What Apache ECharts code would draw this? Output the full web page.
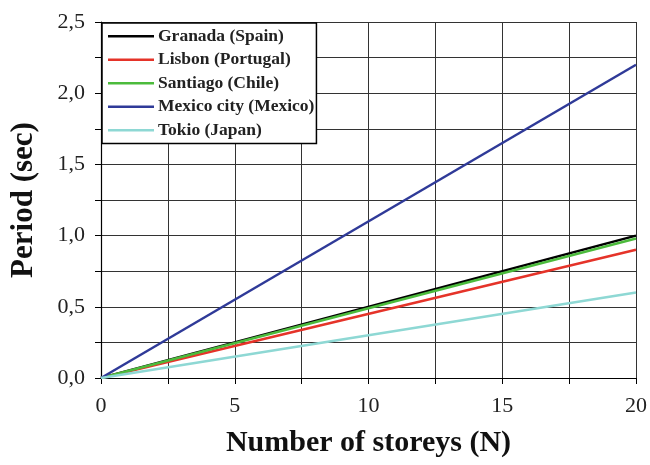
<!DOCTYPE html>
<html>
<head>
<meta charset="utf-8">
<script src="https://cdn.jsdelivr.net/npm/echarts@6/dist/echarts.min.js"></script>
<style>
  html, body { margin: 0; padding: 0; background: #fff; }
  #chart { width: 650px; height: 465px; }
</style>
</head>
<body>
<div id="chart"></div>
<script>
// Gegevens
const storeys = [0, 20];
const cities = ['Granada (Spain)', 'Lisbon (Portugal)', 'Santiago (Chile)', 'Mexico city (Mexico)', 'Tokio (Japan)'];
const granada = [0, 1.0];
const lisbon = [0, 0.9];
const santiago = [0, 0.98];
const mexico = [0, 2.2];
const tokio = [0, 0.6];
const colors = ['#000000', '#e53329', '#4cbb3c', '#2f3a98', '#8ed8d4'];

const seriesValues = [granada, lisbon, santiago, mexico, tokio];

let chart = echarts.init(document.getElementById('chart'));

const serif = 'Liberation Serif, Times New Roman, serif';

let option = {
    animation: false,
    grid: { left: 101, right: 13, top: 22, bottom: 87 },
    legend: {
        orient: 'vertical',
        left: 102,
        top: 23,
        padding: [4, 2, 4, 6],
        backgroundColor: '#fff',
        borderColor: '#000',
        borderWidth: 1.5,
        itemWidth: 46,
        itemHeight: 2.5,
        itemGap: 5,
        icon: 'rect',
        data: cities,
        textStyle: { fontFamily: serif, fontWeight: 'bold', fontSize: 17.5, color: '#222', lineHeight: 18.5, padding: [0, 0, 0, -1] }
    },
    xAxis: {
        type: 'value',
        min: 0, max: 20, interval: 2.5,
        name: 'Number of storeys (N)',
        nameLocation: 'middle',
        nameGap: 50,
        nameTextStyle: { fontFamily: serif, fontWeight: 'bold', fontSize: 30, color: '#111' },
        axisLine: { lineStyle: { color: '#000', width: 1.2 } },
        axisTick: { show: true, length: 6, lineStyle: { color: '#000' } },
        axisLabel: {
            fontFamily: serif, fontSize: 22, color: '#222', margin: 17,
            formatter: v => (v % 5 === 0 ? String(v) : '')
        },
        splitLine: { show: true, lineStyle: { color: '#333', width: 1 } }
    },
    yAxis: {
        type: 'value',
        min: 0, max: 2.5, interval: 0.25,
        name: 'Period (sec)',
        nameLocation: 'middle',
        nameGap: 62,
        nameTextStyle: { fontFamily: serif, fontWeight: 'bold', fontSize: 31, color: '#111' },
        axisLine: { show: true, lineStyle: { color: '#000', width: 1.2 } },
        axisTick: { show: true, length: 6, lineStyle: { color: '#000' } },
        axisLabel: {
            fontFamily: serif, fontSize: 22, color: '#222', margin: 16,
            formatter: v => (Math.abs(v * 2 - Math.round(v * 2)) < 1e-6 ? v.toFixed(1).replace('.', ',') : '')
        },
        splitLine: { show: true, lineStyle: { color: '#333', width: 1 } }
    },
    series: cities.map((name, i) => ({
        name: name,
        type: 'line',
        showSymbol: false,
        symbol: 'none',
        color: colors[i],
        lineStyle: { width: 2.5, color: colors[i] },
        data: storeys.map((n, j) => [n, seriesValues[i][j]])
    }))
};

chart.setOption(option);
</script>
</body>
</html>
